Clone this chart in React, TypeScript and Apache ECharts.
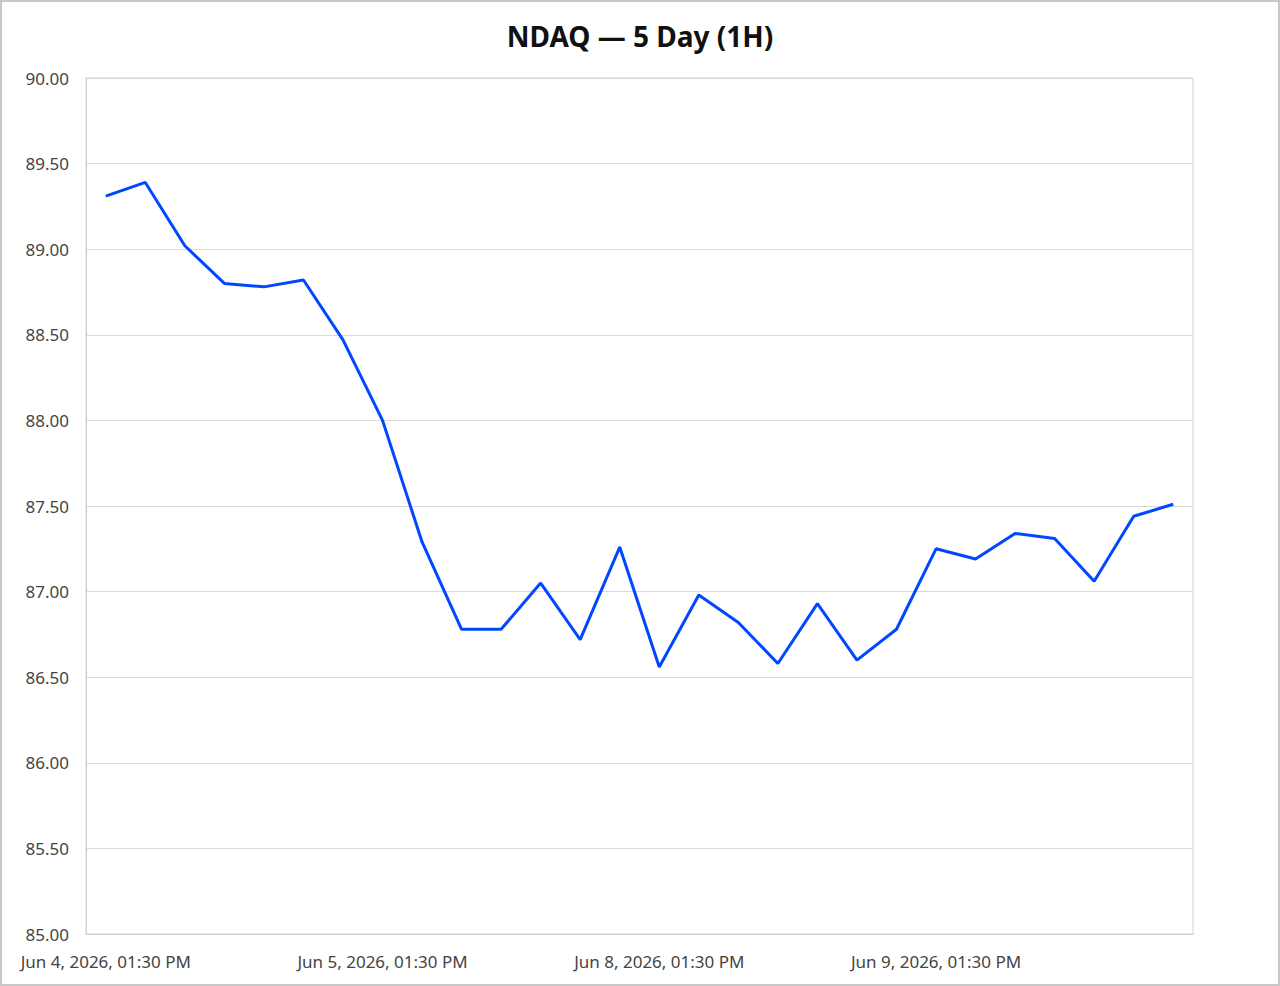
import React, { useEffect, useRef } from "react";
import * as echarts from "echarts";

const categories: string[] = [
  "Jun 4, 2026, 01:30 PM",
  "Jun 4, 2026, 02:30 PM",
  "Jun 4, 2026, 03:30 PM",
  "Jun 5, 2026, 09:30 AM",
  "Jun 5, 2026, 10:30 AM",
  "Jun 5, 2026, 11:30 AM",
  "Jun 5, 2026, 12:30 PM",
  "Jun 5, 2026, 01:30 PM",
  "Jun 5, 2026, 02:30 PM",
  "Jun 5, 2026, 03:30 PM",
  "Jun 8, 2026, 09:30 AM",
  "Jun 8, 2026, 10:30 AM",
  "Jun 8, 2026, 11:30 AM",
  "Jun 8, 2026, 12:30 PM",
  "Jun 8, 2026, 01:30 PM",
  "Jun 8, 2026, 02:30 PM",
  "Jun 8, 2026, 03:30 PM",
  "Jun 9, 2026, 09:30 AM",
  "Jun 9, 2026, 10:30 AM",
  "Jun 9, 2026, 11:30 AM",
  "Jun 9, 2026, 12:30 PM",
  "Jun 9, 2026, 01:30 PM",
  "Jun 9, 2026, 02:30 PM",
  "Jun 9, 2026, 03:30 PM",
  "Jun 10, 2026, 09:30 AM",
  "Jun 10, 2026, 10:30 AM",
  "Jun 10, 2026, 11:30 AM",
  "Jun 10, 2026, 12:30 PM",
];

const closeValues: number[] = [
  89.31, 89.39, 89.02, 88.8, 88.78, 88.82, 88.47, 88.0, 87.29, 86.78,
  86.78, 87.05, 86.72, 87.26, 86.56, 86.98, 86.82, 86.58, 86.93, 86.6,
  86.78, 87.25, 87.19, 87.34, 87.31, 87.06, 87.44, 87.51,
];

const yMin = 85;
const yMax = 90;
const yInterval = 0.5;

const titleText = "NDAQ — 5 Day (1H)";
const FONT = "'Noto Sans', 'Open Sans', sans-serif";

export default function App() {
  const ref = useRef<HTMLDivElement>(null);

  useEffect(() => {
    if (!ref.current) return;
    const chart = echarts.init(ref.current, undefined, { renderer: "svg" });
    chart.setOption({
      animation: false,
      backgroundColor: "#ffffff",
      title: {
        text: titleText,
        left: "center",
        top: 17,
        textStyle: {
          fontFamily: FONT,
          fontSize: 28,
          fontWeight: "bold",
          color: "#111111",
        },
      },
      grid: {
        left: 86,
        right: 87,
        top: 78,
        bottom: 52,
        show: true,
        borderColor: "#d4d4d4",
        borderWidth: 1,
        containLabel: false,
      },
      xAxis: {
        type: "category",
        data: categories,
        boundaryGap: true,
        axisLine: { show: true, lineStyle: { color: "#d0d0d0", width: 1 } },
        axisTick: { show: false },
        splitLine: { show: false },
        axisLabel: {
          interval: 6,
          margin: 19,
          color: "#444444",
          fontSize: 17,
          fontFamily: FONT,
        },
      },
      yAxis: {
        type: "value",
        min: yMin,
        max: yMax,
        interval: yInterval,
        axisLine: { show: true, lineStyle: { color: "#d0d0d0", width: 1 } },
        axisTick: { show: false },
        splitLine: { show: true, lineStyle: { color: "#d9d9d9", width: 1 } },
        axisLabel: {
          margin: 17,
          color: "#444444",
          fontSize: 17,
          fontFamily: FONT,
          formatter: (v: number) => v.toFixed(2),
        },
      },
      series: [
        {
          type: "line",
          data: closeValues,
          showSymbol: false,
          symbol: "none",
          lineStyle: { color: "#0047ff", width: 3 },
          itemStyle: { color: "#0047ff" },
        },
      ],
    });
    return () => chart.dispose();
  }, []);

  return (
    <div style={{ position: "fixed", left: 0, top: 0, width: 1280, height: 986 }}>
      <div ref={ref} style={{ position: "absolute", left: 0, top: 0, width: 1280, height: 986 }} />
      <div
        style={{
          position: "absolute",
          left: 0,
          top: 0,
          width: 1280,
          height: 986,
          boxSizing: "border-box",
          border: "2px solid #c8c8c8",
          pointerEvents: "none",
        }}
      />
    </div>
  );
}
